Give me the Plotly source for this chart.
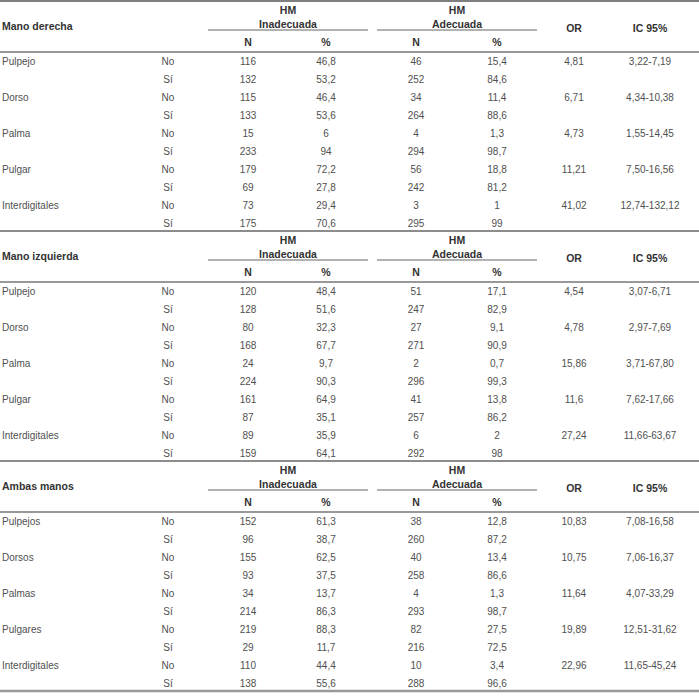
import plotly.graph_objects as go

# ---------------- data ----------------
section_titles = ["Mano derecha", "Mano izquierda", "Ambas manos"]
parts = [
    ["Pulpejo", "Dorso", "Palma", "Pulgar", "Interdigitales"],
    ["Pulpejo", "Dorso", "Palma", "Pulgar", "Interdigitales"],
    ["Pulpejos", "Dorsos", "Palmas", "Pulgares", "Interdigitales"],
]
answers = ["No", "Sí"]

inad_n_no = [[116, 115, 15, 179, 73], [120, 80, 24, 161, 89], [152, 155, 34, 219, 110]]
inad_n_si = [[132, 133, 233, 69, 175], [128, 168, 224, 87, 159], [96, 93, 214, 29, 138]]
inad_pct_no = [[46.8, 46.4, 6, 72.2, 29.4], [48.4, 32.3, 9.7, 64.9, 35.9], [61.3, 62.5, 13.7, 88.3, 44.4]]
inad_pct_si = [[53.2, 53.6, 94, 27.8, 70.6], [51.6, 67.7, 90.3, 35.1, 64.1], [38.7, 37.5, 86.3, 11.7, 55.6]]
adec_n_no = [[46, 34, 4, 56, 3], [51, 27, 2, 41, 6], [38, 40, 4, 82, 10]]
adec_n_si = [[252, 264, 294, 242, 295], [247, 271, 296, 257, 292], [260, 258, 293, 216, 288]]
adec_pct_no = [[15.4, 11.4, 1.3, 18.8, 1], [17.1, 9.1, 0.7, 13.8, 2], [12.8, 13.4, 1.3, 27.5, 3.4]]
adec_pct_si = [[84.6, 88.6, 98.7, 81.2, 99], [82.9, 90.9, 99.3, 86.2, 98], [87.2, 86.6, 98.7, 72.5, 96.6]]
odds_ratio = [[4.81, 6.71, 4.73, 11.21, 41.02], [4.54, 4.78, 15.86, 11.6, 27.24], [10.83, 10.75, 11.64, 19.89, 22.96]]
ci95 = [
    ["3,22-7,19", "4,34-10,38", "1,55-14,45", "7,50-16,56", "12,74-132,12"],
    ["3,07-6,71", "2,97-7,69", "3,71-67,80", "7,62-17,66", "11,66-63,67"],
    ["7,08-16,58", "7,06-16,37", "4,07-33,29", "12,51-31,62", "11,65-45,24"],
]
group_labels = ["HM<br>Inadecuada", "HM<br>Adecuada"]
sub_labels = ["N", "%"]
stat_labels = ["OR", "IC 95%"]


def fmt(v):
    return str(v).replace(".", ",")


# ---------------- layout geometry ----------------
W, H = 699, 696
SEC_H = 230
X_LABEL = 2
X_ANS = 168
X_COLS = [248, 326, 416, 497]
X_OR, X_IC = 574, 650
ROW0, ROW_H = 62, 18

FONT = "Liberation Sans, Arial, sans-serif"
TXT = "#505050"
HDR = "#333333"
FS = 10
FSH = 10.5

fig = go.Figure()
shapes = []


def text_trace(xs, ys, texts, pos="middle center", color=TXT, size=FS, bold=False):
    if bold:
        texts = ["<b>%s</b>" % t for t in texts]
    fig.add_trace(go.Scatter(
        x=xs, y=ys, text=texts, mode="text", textposition=pos,
        textfont=dict(family=FONT, size=size, color=color),
        hoverinfo="skip", showlegend=False, cliponaxis=False,
    ))


def hline(x0, x1, y, color, width):
    shapes.append(dict(type="line", xref="x", yref="y", x0=x0, x1=x1, y0=y, y1=y,
                       line=dict(color=color, width=width)))


for s in range(3):
    base = s * SEC_H
    hline(0, W, base + 1, "#555555" if s == 0 else "#666666", 1.5)
    text_trace([X_LABEL], [base + 27], [section_titles[s]], pos="middle right", color=HDR, size=FSH, bold=True)
    text_trace([288, 457], [base + 18.5, base + 18.5], group_labels, color=HDR, size=FSH, bold=True)
    hline(208, 368, base + 30, "#999999", 1.5)
    hline(377, 537, base + 30, "#999999", 1.5)
    text_trace(X_COLS, [base + 43] * 4, sub_labels * 2, color=HDR, size=FSH, bold=True)
    text_trace([X_OR, X_IC], [base + 29] * 2, stat_labels, color=HDR, size=FSH, bold=True)
    hline(0, W, base + 52, "#999999", 2)

    ys_no = [base + ROW0 + 2 * ROW_H * i for i in range(5)]
    ys_si = [y + ROW_H for y in ys_no]
    text_trace([X_LABEL] * 5, ys_no, parts[s], pos="middle right")
    text_trace([X_ANS] * 5, ys_no, [answers[0]] * 5)
    text_trace([X_ANS] * 5, ys_si, [answers[1]] * 5)
    cols_no = [inad_n_no[s], inad_pct_no[s], adec_n_no[s], adec_pct_no[s]]
    cols_si = [inad_n_si[s], inad_pct_si[s], adec_n_si[s], adec_pct_si[s]]
    for cx, vno, vsi in zip(X_COLS, cols_no, cols_si):
        text_trace([cx] * 5, ys_no, [fmt(v) for v in vno])
        text_trace([cx] * 5, ys_si, [fmt(v) for v in vsi])
    text_trace([X_OR] * 5, ys_no, [fmt(v) for v in odds_ratio[s]])
    text_trace([X_IC] * 5, ys_no, ci95[s])

hline(0, W, 691, "#999999", 2.5)

fig.update_layout(
    width=W, height=H,
    margin=dict(l=0, r=0, t=0, b=0),
    paper_bgcolor="white", plot_bgcolor="white",
    xaxis=dict(range=[0, W], visible=False, fixedrange=True),
    yaxis=dict(range=[H, 0], visible=False, fixedrange=True),
    shapes=shapes,
    hovermode=False,
)

# remove the default 8px page margin so the figure sits at the window's corner
fig.write_html(
    "out.html",
    config={"displayModeBar": False, "staticPlot": True},
    post_script="document.body.style.margin='0';document.body.style.overflow='hidden';",
)
